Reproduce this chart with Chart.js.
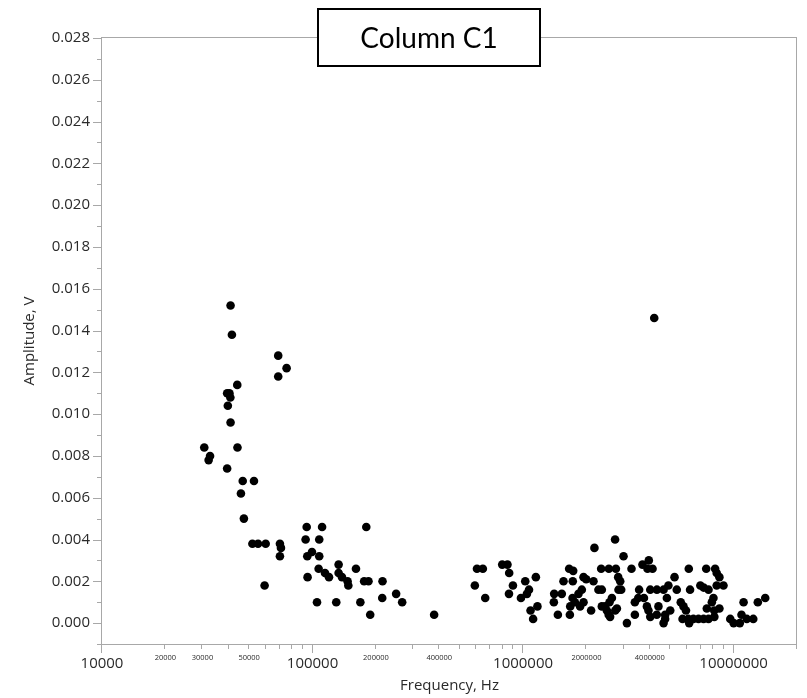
<!DOCTYPE html>
<html>
<head>
<meta charset="utf-8">
<script src="https://cdn.jsdelivr.net/npm/chart.js@4.4.1/dist/chart.umd.min.js"></script>
<style>
  body { margin: 0; background: #fff; }
  #wrap { width: 807px; height: 698px; }
</style>
</head>
<body>
<div id="wrap"><canvas id="chart" width="807" height="698"></canvas></div>
<script>
// Amplitude vs frequency
const freqHz = [
  30600, 32600, 32100, 39300, 40300, 40700, 39600, 40800, 40800, 41400,
  43900, 44000, 39300, 46600, 52700, 45700, 47200, 51800, 55100, 59900,
  59200, 68700, 75300, 68700, 70000, 70800, 70000,
  93800, 92700, 94400, 99400, 94700, 105000, 111000, 107600, 107600, 106900,
  114600, 119700, 133000, 133000, 138000, 146700, 147900, 160800, 175800, 184400,
  180000, 215000, 129600, 168700, 187900, 214300, 249500, 266500, 378000,
  590000, 604000, 644000, 661000, 796000, 843000, 859000, 895000, 857000, 1024000,
  1150000, 1067000, 1043000, 977000, 1085000, 1116000, 1170000, 1405000, 1400000, 1463000,
  1527000, 1556000, 1655000, 1730000, 1722000, 1668000, 1675000, 1718000, 1762000, 1866000,
  1937000, 1833000, 1901000, 1937000, 1994000, 2160000, 2182000, 2104000, 2280000, 2366000,
  2349000, 2555000, 2759000, 2735000, 2830000, 2893000, 2840000, 2924000, 2642000, 2573000,
  2453000, 2366000, 2500000, 2550000, 2590000, 2740000, 2790000, 3000000, 3113000, 3273000,
  3396000, 3396000, 3524000, 3558000, 3690000, 3955000, 3899000, 4120000, 3750000, 3873000,
  3940000, 4019000, 4019000, 4321000, 4648000, 4395000, 4315000, 4730000, 4648000, 4820000,
  4197000,
  4900000, 5240000, 5370000, 6124000, 7410000, 8170000, 8310000, 8560000, 6950000, 7200000,
  7600000, 8310000, 8950000, 6210000, 5610000, 5780000, 5940000, 8020000, 7880000, 7460000,
  8090000, 8560000, 5720000, 6090000, 6440000, 6810000, 7200000, 7600000, 8100000, 6150000,
  4730000, 5000000, 9640000, 10000000, 10700000, 10900000, 11550000, 12400000, 11150000, 13030000,
  14130000
];
const ampV = [
  0.0084, 0.0080, 0.0078, 0.0110, 0.0110, 0.0108, 0.0104, 0.0096, 0.0152, 0.0138,
  0.0114, 0.0084, 0.0074, 0.0068, 0.0068, 0.0062, 0.0050, 0.0038, 0.0038, 0.0038,
  0.0018, 0.0128, 0.0122, 0.0118, 0.0038, 0.0036, 0.0032,
  0.0046, 0.0040, 0.0032, 0.0034, 0.0022, 0.0010, 0.0046, 0.0040, 0.0032, 0.0026,
  0.0024, 0.0022, 0.0028, 0.0024, 0.0022, 0.0020, 0.0018, 0.0026, 0.0020, 0.0020,
  0.0046, 0.0020, 0.0010, 0.0010, 0.0004, 0.0012, 0.0014, 0.0010, 0.0004,
  0.0018, 0.0026, 0.0026, 0.0012, 0.0028, 0.0028, 0.0024, 0.0018, 0.0014, 0.0020,
  0.0022, 0.0016, 0.0014, 0.0012, 0.0006, 0.0002, 0.0008, 0.0014, 0.0010, 0.0004,
  0.0014, 0.0020, 0.0026, 0.0025, 0.0020, 0.0004, 0.0008, 0.0012, 0.0010, 0.0008,
  0.0010, 0.0014, 0.0016, 0.0022, 0.0021, 0.0020, 0.0036, 0.0006, 0.0016, 0.0016,
  0.0026, 0.0026, 0.0026, 0.0040, 0.0022, 0.0020, 0.0016, 0.0016, 0.0012, 0.0010,
  0.0008, 0.0008, 0.0006, 0.0004, 0.0003, 0.0006, 0.0007, 0.0032, 0.0000, 0.0026,
  0.0010, 0.0004, 0.0012, 0.0016, 0.0028, 0.0030, 0.0026, 0.0026, 0.0012, 0.0008,
  0.0006, 0.0003, 0.0016, 0.0016, 0.0016, 0.0008, 0.0004, 0.0004, 0.0000, 0.0012,
  0.0146,
  0.0018, 0.0022, 0.0016, 0.0026, 0.0026, 0.0026, 0.0024, 0.0022, 0.0018, 0.0017,
  0.0016, 0.0018, 0.0018, 0.0016, 0.0010, 0.0008, 0.0006, 0.0012, 0.0010, 0.0007,
  0.0006, 0.0007, 0.0002, 0.0002, 0.0002, 0.0002, 0.0002, 0.0002, 0.0003, 0.0000,
  0.0002, 0.0006, 0.0002, 0.0000, 0.0000, 0.0004, 0.0002, 0.0002, 0.0010, 0.0010,
  0.0012
];

// axis ticks
const yMajorTicks = [0, 0.002, 0.004, 0.006, 0.008, 0.010, 0.012, 0.014, 0.016, 0.018, 0.020, 0.022, 0.024, 0.026, 0.028];
const yMinorTicks = [-0.001, 0.001, 0.003, 0.005, 0.007, 0.009, 0.011, 0.013, 0.015, 0.017, 0.019, 0.021, 0.023, 0.025, 0.027];
const xMajorTicks = [10000, 100000, 1000000, 10000000];
const xMinorLabels = [20000, 30000, 50000, 200000, 400000, 2000000, 4000000];
const xMinorTicks = [];
xMajorTicks.forEach(d => {
    for (let m = 2; m <= 9; m++) {
        if (d * m <= 20000000) xMinorTicks.push(d * m);
    }
});

const axisColor = '#a8a8a8';
const textColor = '#2a2a2a';
const labelFont = '"Open Sans", sans-serif';

// frame, ticks, labels, titles and the boxed heading
const axesPlugin = {
    id: 'axesPlugin',
    afterDraw(chart) {
        const ctx = chart.ctx;
        const a = chart.chartArea;
        const x = chart.scales.x;
        const y = chart.scales.y;
        ctx.save();
        ctx.strokeStyle = axisColor;
        ctx.lineWidth = 1;
        ctx.strokeRect(a.left - 0.5, a.top - 0.5, a.right - a.left, a.bottom - a.top + 1);

        ctx.beginPath();
        yMajorTicks.forEach(v => {
            const py = Math.round(y.getPixelForValue(v)) + 0.5;
            ctx.moveTo(a.left - 9, py); ctx.lineTo(a.left, py);
        });
        yMinorTicks.forEach(v => {
            const py = Math.round(y.getPixelForValue(v)) + 0.5;
            ctx.moveTo(a.left - 5, py); ctx.lineTo(a.left, py);
        });
        xMajorTicks.forEach(v => {
            const px = Math.round(x.getPixelForValue(v)) - 0.5;
            ctx.moveTo(px, a.bottom); ctx.lineTo(px, a.bottom + 9);
        });
        xMinorTicks.forEach(v => {
            const px = Math.round(x.getPixelForValue(v)) - 0.5;
            ctx.moveTo(px, a.bottom); ctx.lineTo(px, a.bottom + 5);
        });
        ctx.stroke();

        ctx.fillStyle = textColor;
        ctx.font = '15px ' + labelFont;
        ctx.textAlign = 'right';
        ctx.textBaseline = 'middle';
        yMajorTicks.forEach(v => {
            ctx.fillText(v.toFixed(3), a.left - 12, y.getPixelForValue(v));
        });

        ctx.textAlign = 'center';
        ctx.font = '15px ' + labelFont;
        xMajorTicks.forEach(v => {
            ctx.fillText(String(v), x.getPixelForValue(v), a.bottom + 20);
        });
        ctx.font = '7.5px ' + labelFont;
        xMinorLabels.forEach(v => {
            ctx.fillText(String(v), x.getPixelForValue(v), a.bottom + 14);
        });

        // axis titles
        ctx.font = '15px ' + labelFont;
        ctx.fillText('Frequency, Hz', (a.left + a.right) / 2, a.bottom + 42);
        ctx.save();
        ctx.translate(30, (a.top + a.bottom) / 2);
        ctx.rotate(-Math.PI / 2);
        ctx.fillText('Amplitude, V', 0, 0);
        ctx.restore();

        // boxed heading sitting on the top border
        ctx.fillStyle = '#fff';
        ctx.fillRect(318, 9, 222, 57);
        ctx.strokeStyle = '#000';
        ctx.lineWidth = 2;
        ctx.strokeRect(318, 9, 222, 57);
        ctx.fillStyle = '#000';
        ctx.font = '28px Lato, "Open Sans", sans-serif';
        ctx.fillText('Column C1', 429, 39);
        ctx.restore();
    }
};

const ctx = document.getElementById('chart').getContext('2d');
const chart = new Chart(ctx, {
    type: 'scatter',
    data: {
        datasets: [{
            label: 'Column C1',
            data: freqHz.map((f, i) => ({ x: f, y: ampV[i] })),
            backgroundColor: '#000',
            borderWidth: 0,
            pointRadius: 4.3,
            pointHoverRadius: 4.3
        }]
    },
    options: {
        responsive: false,
        animation: false,
        layout: {
            padding: { left: 0, top: 38, right: 10, bottom: 0 }
        },
        plugins: {
            legend: { display: false },
            title: { display: false },
            tooltip: { enabled: false }
        },
        scales: {
            x: {
                type: 'logarithmic',
                min: 10000,
                max: 20000000,
                grid: { display: false },
                border: { display: false },
                ticks: { display: false },
                afterFit(scale) { scale.height = 54; }
            },
            y: {
                min: -0.001,
                max: 0.028,
                grid: { display: false },
                border: { display: false },
                ticks: { display: false },
                afterFit(scale) { scale.width = 102; }
            }
        }
    },
    plugins: [axesPlugin]
});
</script>
</body>
</html>
